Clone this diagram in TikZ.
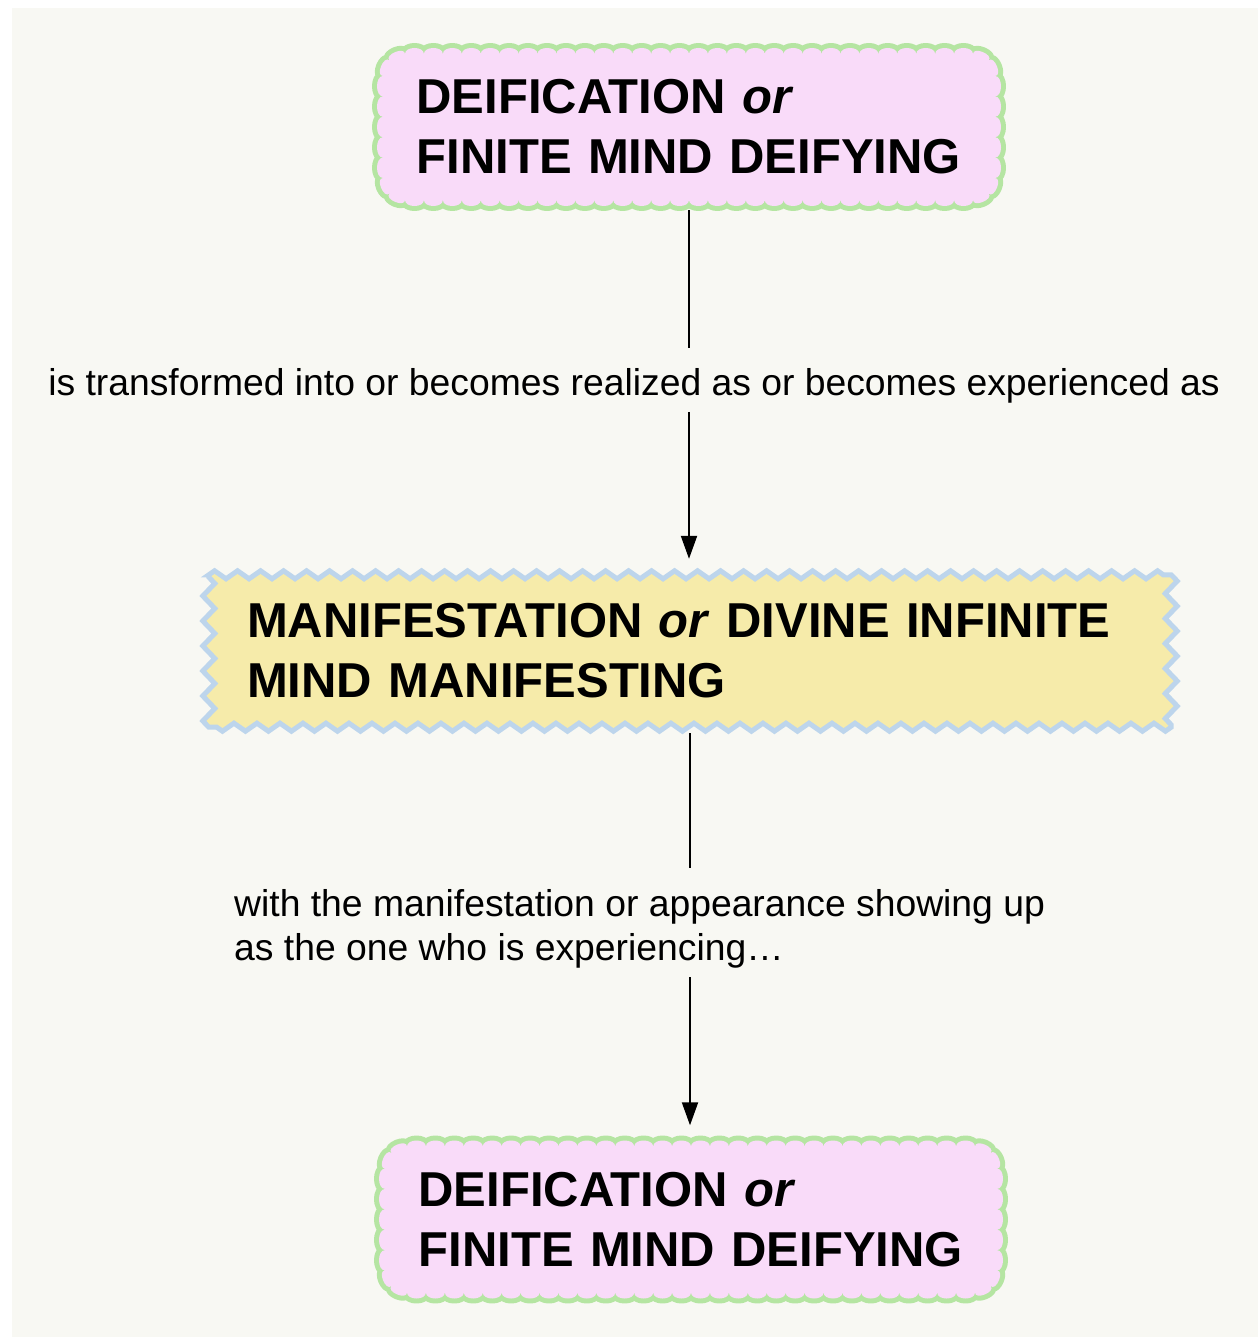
\documentclass[tikz,border=0pt]{standalone}
\usepackage{fontspec}
\setmainfont{Liberation Sans}
\usetikzlibrary{decorations.pathmorphing, arrows.meta, backgrounds}
\definecolor{bgcol}{RGB}{248,248,243}
\definecolor{pinkfill}{RGB}{249,219,249}
\definecolor{greenborder}{RGB}{181,229,162}
\definecolor{yellowfill}{RGB}{246,235,170}
\definecolor{blueborder}{RGB}{189,213,236}
\newcommand{\boxfont}{\fontsize{49pt}{60pt}\selectfont\bfseries}
\newcommand{\labfont}{\fontsize{37.3pt}{44pt}\selectfont}
\def\kk{8}
\newcommand{\scallopbox}[1]{%
  \path[scallop, shift={(#1.center)}]
    (-284,-73)
    \foreach \i in {1,...,30} { .. controls +(0,-\kk) and +(0,-\kk) .. ({-284+\i*18.9333},-73) }
    \foreach \p in {45,90} { .. controls +({\kk*sin(\p-45)},{-\kk*cos(\p-45)}) and +({\kk*sin(\p)},{-\kk*cos(\p)}) .. ({284+22*sin(\p)},{-51-22*cos(\p)}) }
    \foreach \i in {1,...,5} { .. controls +(\kk,0) and +(\kk,0) .. (306,{-51+\i*20.4}) }
    \foreach \p in {45,90} { .. controls +({\kk*cos(\p-45)},{\kk*sin(\p-45)}) and +({\kk*cos(\p)},{\kk*sin(\p)}) .. ({284+22*cos(\p)},{51+22*sin(\p)}) }
    \foreach \i in {1,...,30} { .. controls +(0,\kk) and +(0,\kk) .. ({284-\i*18.9333},73) }
    \foreach \p in {45,90} { .. controls +({-\kk*sin(\p-45)},{\kk*cos(\p-45)}) and +({-\kk*sin(\p)},{\kk*cos(\p)}) .. ({-284-22*sin(\p)},{51+22*cos(\p)}) }
    \foreach \i in {1,...,5} { .. controls +(-\kk,0) and +(-\kk,0) .. (-306,{51-\i*20.4}) }
    \foreach \p in {45,90} { .. controls +({-\kk*cos(\p-45)},{-\kk*sin(\p-45)}) and +({-\kk*cos(\p)},{-\kk*sin(\p)}) .. ({-284-22*cos(\p)},{-51-22*sin(\p)}) }
    -- cycle;}
\begin{document}
\begin{tikzpicture}[x=1pt,y=-1pt,
  deify/.style={minimum width=617pt, minimum height=154pt, text width=545pt,
    inner xsep=36pt, inner ysep=0pt, align=left, font=\boxfont},
  scallop/.style={fill=pinkfill,
    preaction={draw=greenborder, line width=10pt, line join=round}},
  manif/.style={minimum width=962pt, minimum height=152pt, text width=886pt,
    inner xsep=38pt, inner ysep=0pt, align=left, font=\boxfont},
  lab/.style={font=\labfont, inner sep=0pt},
  conn/.style={line width=2pt, draw=black},
  arr/.style={conn, -{Triangle[length=23pt,width=16pt]}}
]
\useasboundingbox (0,0) rectangle (1258,1337);

\node[deify] (top) at (689,127) {DEIFICATION \textit{or}\\FINITE MIND DEIFYING};
\node[manif] (mid) at (690,651) {MANIFESTATION \textit{or} DIVINE INFINITE\\MIND MANIFESTING};
\node[deify] (bot) at (691,1219.5) {DEIFICATION \textit{or}\\FINITE MIND DEIFYING};
\node[lab, anchor=base] (lab1) at (634,395) {is transformed into or becomes realized as or becomes experienced as};
\node[lab, anchor=north west, align=left] (lab2) at (234,889) {with the manifestation or appearance showing up\\as the one who is experiencing…};

\draw[conn, shorten <=6pt, shorten >=20pt] (top.south) -- (top.south |- lab1.north);
\draw[arr, shorten <=9pt, shorten >=16pt] (top.south |- lab1.south) -- (top.south |- mid.north);
\draw[conn, shorten <=6pt, shorten >=21pt] (mid.south) -- (mid.south |- lab2.north);
\draw[arr, shorten <=9pt, shorten >=17pt] (mid.south |- lab2.south) -- (mid.south |- bot.north);

\begin{scope}[on background layer]
  \fill[bgcol] (12,8) rectangle (1258,1337);
  \scallopbox{top}
  \scallopbox{bot}
  \path[draw=blueborder, fill=yellowfill, line width=5pt, line join=miter]
    (mid.north west)
    decorate[decoration={zigzag, segment length=23pt, amplitude=4pt}] {-- (mid.north east)}
    decorate[decoration={zigzag, segment length=25pt, amplitude=6pt}] {-- (mid.south east)}
    decorate[decoration={zigzag, segment length=23pt, amplitude=4pt}] {-- (mid.south west)}
    decorate[decoration={zigzag, segment length=25pt, amplitude=6pt}] {-- (mid.north west)}
    -- cycle;
\end{scope}
\end{tikzpicture}
\end{document}
